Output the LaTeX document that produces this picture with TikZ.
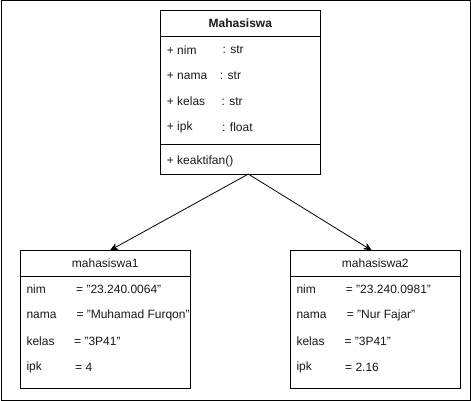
\documentclass[tikz,border=0pt]{standalone}
\usepackage{fontspec}
\setmainfont{Liberation Sans}
\usetikzlibrary{arrows.meta}
\begin{document}
\begin{tikzpicture}[x=1pt,y=-1pt,
  box/.style={draw=black,line width=1pt,rectangle,inner sep=0pt,outer sep=0pt,fill=white},
  txt/.style={anchor=west,inner sep=0pt,font=\fontsize{12pt}{14pt}\selectfont,text=black!90},
  ttl/.style={anchor=center,inner sep=0pt,font=\fontsize{12pt}{14pt}\selectfont,text=black!90},
  arr/.style={draw=black,line width=0.8pt,-{Stealth[length=8pt,width=7pt,inset=2pt]}}]
\useasboundingbox (0,0) rectangle (471,401);
\node[draw=black,line width=1pt,rectangle,inner sep=0pt,minimum width=469pt,minimum height=399pt] (frame) at (235.5,200.5) {};
% class box
\node[box,minimum width=160pt,minimum height=26pt] (clsHead) at (240.3,23.3) {};
\node[box,minimum width=160pt,minimum height=108pt] (clsAttr) at (240.3,90.3) {};
\node[box,minimum width=160pt,minimum height=29.7pt] (clsOps) at (240.3,159.2) {};
\node[ttl,font=\fontsize{12pt}{14pt}\selectfont\bfseries] (clsTitle) at (clsHead.center) {Mahasiswa};
\node[txt] (a1) at (166.7,50) {+ nim};
\node[txt] (a1t) at (222.3,50) {: str};
\node[txt] (a2) at (166.7,75.7) {+ nama};
\node[txt] (a2t) at (219.7,75.7) {: str};
\node[txt] (a3) at (166.7,101.7) {+ kelas};
\node[txt] (a3t) at (221.3,101.7) {: str};
\node[txt] (a4) at (166.7,127.7) {+ ipk};
\node[txt] (a4t) at (222,127.7) {: float};
\node[txt] (m1) at (166.7,161.7) {+ keaktifan()};
% object 1
\node[box,minimum width=170pt,minimum height=25.7pt] (o1Head) at (105.3,263.2) {};
\node[box,minimum width=170pt,minimum height=112.3pt] (o1Body) at (105.3,332.2) {};
\node[ttl] (o1Title) at (o1Head.center) {mahasiswa1};
\node[txt] (p1) at (26.3,289.3) {nim};
\node[txt] (p1v) at (76,289.3) {= "23.240.0064"};
\node[txt] (p2) at (26.3,315.3) {nama};
\begin{scope}
\clip (20,300) rectangle (188.5,330);
\node[txt] (p2v) at (76.3,315.3) {= "Muhamad Furqon"};
\end{scope}
\node[txt] (p3) at (26.3,341.3) {kelas};
\node[txt] (p3v) at (74,341.3) {= "3P41"};
\node[txt] (p4) at (26.3,367.3) {ipk};
\node[txt] (p4v) at (75,367.3) {= 4};
% object 2
\node[box,minimum width=170pt,minimum height=25.7pt] (o2Head) at (375.3,263.2) {};
\node[box,minimum width=170pt,minimum height=112.3pt] (o2Body) at (375.3,332.2) {};
\node[ttl] (o2Title) at (o2Head.center) {mahasiswa2};
\node[txt] (q1) at (296.3,289.3) {nim};
\node[txt] (q1v) at (345.7,289.3) {= "23.240.0981"};
\node[txt] (q2) at (296.3,315.3) {nama};
\node[txt] (q2v) at (346.7,315.3) {= "Nur Fajar"};
\node[txt] (q3) at (296.3,341.3) {kelas};
\node[txt] (q3v) at (344.3,341.3) {= "3P41"};
\node[txt] (q4) at (296.3,367.3) {ipk};
\node[txt] (q4v) at (345,367.3) {= 2.16};
% connectors
\coordinate (src) at ([xshift=8pt]clsOps.south);
\coordinate (dst1) at ([xshift=4.7pt]o1Head.north);
\coordinate (dst2) at ([xshift=-3.6pt]o2Head.north);
\draw[arr] (src) -- (dst1);
\draw[arr] (src) -- (dst2);
\end{tikzpicture}
\end{document}
